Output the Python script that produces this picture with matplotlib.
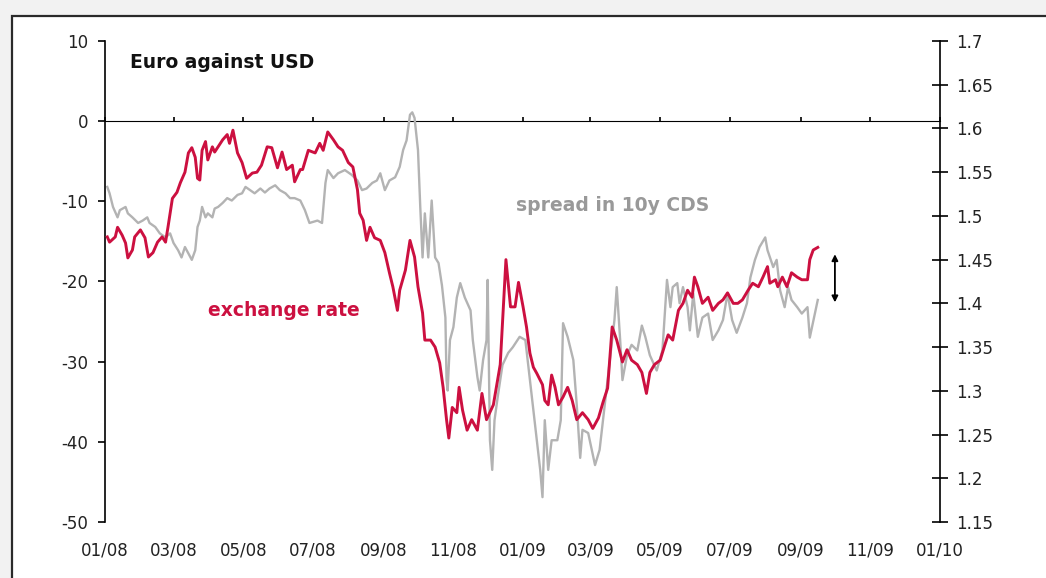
import matplotlib
matplotlib.use("Agg")
import matplotlib.pyplot as plt
import matplotlib.dates as mdates
from matplotlib.patches import Rectangle
import pandas as pd

plt.rcParams['font.family'] = ['DejaVu Sans']
plt.rcParams['axes.unicode_minus'] = False

BASE = "2008-01-01"

# Exchange rate EUR/USD (right axis): day offset from 2008-01-01, value
fx_days = [2, 4, 9, 11, 15, 18, 20, 24, 26, 31, 35, 38, 42, 46, 50, 53, 55, 59, 63, 66,
           70, 73, 76, 79, 81, 83, 85, 88, 90, 94, 96, 99, 103, 107, 109, 112, 116, 120, 124, 129,
           133, 137, 142, 146, 151, 155, 159, 164, 166, 171, 173, 178, 184, 188, 191, 195, 200, 204, 208, 213,
           217, 221, 223, 226, 229, 232, 236, 241, 245, 249, 252, 256, 258, 263, 267, 271, 274, 278, 280, 285,
           289, 293, 296, 299, 301, 304, 308, 310, 313, 317, 321, 326, 330, 334, 340, 346, 351, 355, 359, 362,
           366, 369, 372, 375, 378, 383, 385, 388, 391, 394, 397, 401, 405, 409, 413, 418, 423, 427, 432, 436,
           440, 444, 448, 453, 457, 461, 466, 470, 474, 477, 481, 486, 490, 493, 497, 502, 506, 510, 514, 516,
           519, 523, 528, 532, 537, 541, 545, 550, 554, 558, 563, 567, 572, 576, 580, 582, 587, 589, 593, 597,
           601, 606, 610, 615, 617, 620, 624]
fx_vals = [1.476, 1.470, 1.476, 1.487, 1.478, 1.469, 1.452, 1.461, 1.476, 1.484, 1.475, 1.453, 1.458, 1.470, 1.476, 1.470, 1.486, 1.520, 1.527, 1.538,
           1.550, 1.572, 1.578, 1.567, 1.543, 1.541, 1.575, 1.585, 1.564, 1.579, 1.573, 1.579, 1.587, 1.593, 1.583, 1.598, 1.572, 1.561, 1.543, 1.549,
           1.550, 1.558, 1.579, 1.578, 1.555, 1.573, 1.553, 1.558, 1.539, 1.553, 1.553, 1.575, 1.572, 1.583, 1.575, 1.596, 1.587, 1.579, 1.575, 1.561,
           1.556, 1.530, 1.503, 1.495, 1.472, 1.487, 1.475, 1.472, 1.458, 1.435, 1.419, 1.392, 1.415, 1.438, 1.472, 1.453, 1.419, 1.389, 1.358, 1.358,
           1.350, 1.332, 1.304, 1.267, 1.246, 1.281, 1.275, 1.304, 1.278, 1.255, 1.267, 1.255, 1.297, 1.267, 1.284, 1.330, 1.450, 1.396, 1.396, 1.424,
           1.396, 1.373, 1.343, 1.327, 1.320, 1.307, 1.289, 1.284, 1.318, 1.304, 1.284, 1.293, 1.304, 1.289, 1.267, 1.275, 1.267, 1.257, 1.269, 1.287,
           1.303, 1.373, 1.358, 1.333, 1.347, 1.335, 1.330, 1.321, 1.297, 1.321, 1.330, 1.335, 1.352, 1.364, 1.358, 1.392, 1.400, 1.415, 1.407, 1.430,
           1.419, 1.400, 1.407, 1.392, 1.400, 1.404, 1.412, 1.400, 1.400, 1.404, 1.415, 1.423, 1.419, 1.430, 1.442, 1.423, 1.427, 1.419, 1.430, 1.419,
           1.435, 1.430, 1.427, 1.427, 1.450, 1.461, 1.464]

# Spread in 10y CDS (left axis): day offset from 2008-01-01, value
cds_days = [2, 4, 7, 11, 13, 18, 20, 24, 29, 33, 37, 39, 44, 48, 53, 57, 60, 64, 67, 70,
            73, 76, 79, 81, 83, 85, 88, 90, 94, 96, 99, 103, 107, 111, 116, 120, 123, 127, 131, 136,
            140, 144, 149, 153, 158, 162, 166, 171, 175, 179, 186, 190, 193, 195, 200, 204, 210, 216, 221, 225,
            229, 234, 238, 241, 245, 249, 254, 258, 261, 264, 267, 269, 271, 274, 276, 278, 280, 283, 286, 289,
            292, 295, 298, 299, 300, 302, 305, 308, 311, 315, 320, 322, 326, 328, 331, 334, 335, 337, 339, 341,
            344, 348, 353, 357, 363, 368, 372, 376, 381, 383, 385, 388, 391, 396, 399, 401, 405, 410, 413, 416,
            418, 423, 429, 433, 438, 442, 446, 448, 451, 453, 457, 461, 466, 470, 473, 477, 483, 488, 492, 495,
            497, 501, 503, 506, 510, 512, 515, 519, 523, 528, 532, 537, 541, 545, 549, 553, 558, 562, 565, 569,
            573, 578, 580, 585, 588, 591, 595, 598, 601, 606, 610, 615, 617, 620, 624]
cds_vals = [-8.2, -9.0, -10.7, -12.0, -11.1, -10.7, -11.5, -12.0, -12.7, -12.4, -12.0, -12.7, -13.2, -14.0, -14.5, -14.0, -15.2, -16.1, -17.0, -15.7,
            -16.5, -17.3, -16.1, -13.2, -12.4, -10.7, -12.0, -11.5, -12.0, -10.9, -10.7, -10.2, -9.6, -9.9, -9.2, -9.0, -8.2, -8.6, -9.0, -8.4,
            -8.9, -8.4, -8.0, -8.6, -9.0, -9.6, -9.6, -9.9, -11.1, -12.7, -12.4, -12.7, -7.7, -6.1, -7.1, -6.5, -6.1, -6.7, -7.4, -8.6,
            -8.4, -7.7, -7.4, -6.5, -8.6, -7.4, -7.0, -5.7, -3.6, -2.4, 0.8, 1.1, 0.4, -3.6, -10.7, -17.0, -11.5, -17.0, -9.9, -17.0,
            -17.7, -20.5, -24.5, -32.3, -33.6, -27.3, -25.7, -22.0, -20.2, -22.0, -23.6, -27.3, -31.9, -33.6, -29.8, -27.3, -19.8, -39.8, -43.5, -37.3,
            -34.2, -30.4, -28.9, -28.2, -26.9, -27.3, -32.3, -37.3, -43.5, -46.9, -37.3, -43.5, -39.8, -39.8, -37.3, -25.2, -26.9, -29.8, -35.4, -42.0,
            -38.5, -38.9, -42.9, -41.0, -34.8, -29.8, -24.8, -20.7, -27.3, -32.3, -29.2, -27.9, -28.6, -25.5, -26.9, -29.2, -31.1, -28.6, -19.8, -23.2,
            -20.7, -20.2, -22.7, -20.7, -23.2, -26.1, -21.5, -26.9, -24.5, -24.0, -27.3, -26.1, -24.8, -21.5, -24.8, -26.4, -24.5, -22.7, -19.5, -17.3,
            -15.7, -14.5, -16.1, -18.2, -17.3, -21.1, -23.2, -20.7, -22.3, -23.2, -24.0, -23.2, -27.0, -25.0, -22.3]

x_tick_labels = ["01/08", "03/08", "05/08", "07/08", "09/08", "11/08", "01/09",
                 "03/09", "05/09", "07/09", "09/09", "11/09", "01/10"]
left_ticks = [-50, -40, -30, -20, -10, 0, 10]
right_ticks = [1.15, 1.2, 1.25, 1.3, 1.35, 1.4, 1.45, 1.5, 1.55, 1.6, 1.65, 1.7]

# gap marker (double arrow) at the end of the series, left-axis units
gap_day = 639
gap_top = -16.6
gap_bottom = -22.6

RED = "#cc1040"
GREY = "#b3b3b3"

base = pd.Timestamp(BASE)
fx_dates = base + pd.to_timedelta(fx_days, unit="D")
cds_dates = base + pd.to_timedelta(cds_days, unit="D")
tick_dates = pd.to_datetime(["20" + s[3:] + "-" + s[:2] + "-01" for s in x_tick_labels])
tick_nums = mdates.date2num(tick_dates)

W, H = 1046, 578
fig = plt.figure(figsize=(W / 100, H / 100), dpi=100)
fig.patch.set_facecolor("#f2f2f2")
fig.patches.append(Rectangle((12 / W, -0.05), 1.2, (H - 16) / H + 0.05,
                             transform=fig.transFigure, facecolor="white",
                             edgecolor="#2a2a2a", linewidth=1.6, zorder=-10))

ax = fig.add_axes([105 / W, 56 / H, 835 / W, 481 / H])
ax.set_facecolor("none")
ax2 = ax.twinx()

ax.plot(cds_dates, cds_vals, color=GREY, lw=1.7, zorder=2)
ax2.plot(fx_dates, fx_vals, color=RED, lw=2.1, zorder=3)

ax.set_xlim(tick_dates[0], tick_dates[-1])
ax.set_ylim(left_ticks[0], left_ticks[-1])
ax2.set_ylim(right_ticks[0], right_ticks[-1])

# spines
for s in ["top", "right", "bottom"]:
    ax.spines[s].set_visible(False)
for s in ["top", "left", "bottom"]:
    ax2.spines[s].set_visible(False)
ax.spines["left"].set_linewidth(1.2)
ax2.spines["right"].set_linewidth(1.2)

TICK_FS = 12

# left axis ticks
ax.set_yticks(left_ticks)
ax.set_yticklabels([str(v) for v in left_ticks])
ax.tick_params(axis="y", direction="out", length=5, width=1.2, pad=7,
               labelsize=TICK_FS, labelcolor="#222222")

# right axis ticks
ax2.set_yticks(right_ticks)
ax2.set_yticklabels([f"{v:g}" for v in right_ticks])
ax2.tick_params(axis="y", direction="inout", length=11, width=1.2, pad=6,
                labelsize=TICK_FS, labelcolor="#222222")

# x labels at bottom without tick marks
ax.set_xticks(tick_nums)
ax.set_xticklabels(x_tick_labels)
ax.tick_params(axis="x", length=0, pad=14, labelsize=TICK_FS, labelcolor="#222222")

# zero line with tick marks
zero_loc = (0 - left_ticks[0]) / (left_ticks[-1] - left_ticks[0])
sec = ax.secondary_xaxis(zero_loc)
sec.set_xticks(tick_nums)
sec.set_xticklabels([])
sec.spines["bottom"].set_linewidth(1.2)
sec.tick_params(axis="x", direction="out", length=3, width=1.2)

# texts
ax.text(0.030, 0.956, "Euro against USD", transform=ax.transAxes,
        fontsize=13.5, fontweight="bold", color="#111111", va="center", ha="left")
ax.text(0.492, 0.657, "spread in 10y CDS", transform=ax.transAxes,
        fontsize=13.5, fontweight="bold", color="#999999", va="center", ha="left")
ax.text(0.123, 0.439, "exchange rate", transform=ax.transAxes,
        fontsize=13.5, fontweight="bold", color=RED, va="center", ha="left")

# double arrow showing the gap
gap_date = base + pd.Timedelta(days=gap_day)
ax2.set_zorder(ax.get_zorder() + 1)
ax.annotate("", xy=(gap_date, gap_bottom), xytext=(gap_date, gap_top),
            arrowprops=dict(arrowstyle="<|-|>", color="black", lw=1.3,
                            mutation_scale=9, shrinkA=0, shrinkB=0))

fig.savefig("out.png", dpi=100, facecolor=fig.get_facecolor())
